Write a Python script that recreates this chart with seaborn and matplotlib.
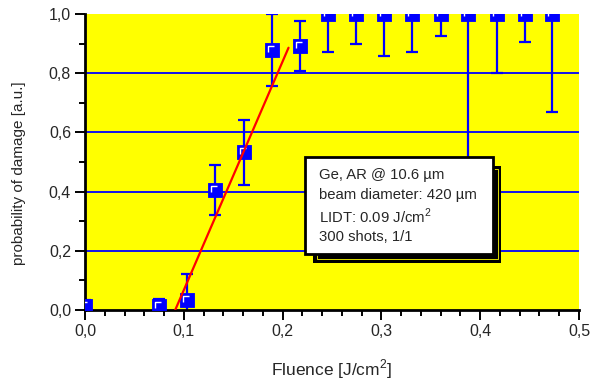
import numpy as np
import pandas as pd
import seaborn as sns
import matplotlib.pyplot as plt
from matplotlib.patches import Rectangle
from matplotlib.ticker import MultipleLocator, FuncFormatter

# Measured damage probability vs. fluence
fluence = [0.0, 0.075, 0.1035, 0.132, 0.161, 0.189, 0.218,
           0.246, 0.2745, 0.303, 0.331, 0.360, 0.388, 0.4165, 0.445, 0.473]
probability = [0.012, 0.014, 0.034, 0.405, 0.533, 0.878, 0.893,
               1.0, 1.0, 1.0, 1.0, 1.0, 1.0, 1.0, 1.0, 1.0]
error = [0.022, 0.023, 0.086, 0.085, 0.11, 0.122, 0.085,
         0.127, 0.10, 0.141, 0.127, 0.073, 0.50, 0.20, 0.094, 0.33]

# Linear fit through the rising edge, starting at the threshold
fit_fluence = [0.0913, 0.206]
fit_probability = [0.0, 0.886]

info_lines = ["Ge, AR @ 10.6 µm", "beam diameter: 420 µm",
              "LIDT: 0.09 J/cm$^{2}$", "300 shots, 1/1"]

sns.set_theme(style="ticks")
plt.rcParams["font.family"] = ["Liberation Sans", "DejaVu Sans"]
plt.rcParams["mathtext.fontset"] = "custom"
plt.rcParams["mathtext.rm"] = "Liberation Sans"

BLUE = "#0000ff"
RED = "#ff0000"

fig = plt.figure(figsize=(5.9, 3.81), dpi=100)
ax = fig.add_axes([85 / 590, 1 - 310 / 381, 494 / 590, 296 / 381])
ax.set_facecolor("#ffff00")

df = pd.DataFrame({"fluence": fluence, "probability": probability, "error": error})

# horizontal grid lines
for yv in [0.2, 0.4, 0.6, 0.8]:
    ax.axhline(yv, color=BLUE, lw=1.3, zorder=1)

ax.errorbar(df["fluence"], df["probability"], yerr=df["error"], fmt="none",
            ecolor=BLUE, elinewidth=1.6, capsize=4, capthick=1.6, zorder=2)

ms = 10.2
sns.scatterplot(data=df, x="fluence", y="probability", marker="s", s=ms ** 2,
                color=BLUE, edgecolor=BLUE, linewidth=0.6, ax=ax, zorder=3,
                legend=False)
# bevel highlight inside each square
bevel = [(-0.27, -0.12), (-0.27, 0.27), (0.17, 0.27)]
ax.plot(df["fluence"], df["probability"], linestyle="none", marker=bevel,
        markersize=ms * 0.54, markerfacecolor="none", markeredgecolor="white",
        markeredgewidth=1.0, zorder=4)

fit_df = pd.DataFrame({"fluence": fit_fluence, "probability": fit_probability})
sns.lineplot(data=fit_df, x="fluence", y="probability", color=RED, lw=1.6,
             ax=ax, zorder=5)

ax.set_xlim(0, 0.5)
ax.set_ylim(0, 1.0)
ax.xaxis.set_major_locator(MultipleLocator(0.1))
ax.xaxis.set_minor_locator(MultipleLocator(0.02))
ax.yaxis.set_major_locator(MultipleLocator(0.2))
ax.yaxis.set_minor_locator(MultipleLocator(0.1))
comma = FuncFormatter(lambda v, p: f"{v:.1f}".replace(".", ","))
ax.xaxis.set_major_formatter(comma)
ax.yaxis.set_major_formatter(comma)
ax.tick_params(which="major", direction="out", length=7, width=1.4,
               labelsize=11.5, pad=3, color="black")
ax.tick_params(which="minor", direction="out", length=4, width=1.4, color="black")

for side in ["top", "right"]:
    ax.spines[side].set_visible(False)
for side in ["left", "bottom"]:
    ax.spines[side].set_linewidth(2)
    ax.spines[side].set_color("black")

ax.set_xlabel("Fluence [J/cm$^{2}$]", fontsize=12.5)
ax.set_ylabel("probability of damage [a.u.]", fontsize=11)
ax.xaxis.set_label_coords(0.5, -0.16)
ax.yaxis.set_label_coords(-59 / 494, 0.463)

# annotation box with drop shadow
bx0, bx1, by0, by1 = 0.2227, 0.4130, 0.189, 0.517
dx, dy = 0.0085, 0.029
ax.add_patch(Rectangle((bx0 + dx, by0 - dy), bx1 - bx0, by1 - by0,
                       facecolor="black", edgecolor="black", lw=0, zorder=8))
ax.add_patch(Rectangle((bx0 + dx + 0.0035, by0 - dy + 0.012),
                       bx1 - bx0 - 0.007, by1 - by0 - 0.024,
                       facecolor="none", edgecolor="#ffff00", lw=0.6, zorder=8.5))
ax.add_patch(Rectangle((bx0, by0), bx1 - bx0, by1 - by0,
                       facecolor="white", edgecolor="black", lw=2, zorder=9))
line_y = [0.456, 0.389, 0.316, 0.247]
for txt, yv in zip(info_lines, line_y):
    ax.text(0.2368, yv, txt, fontsize=10.7, va="center", ha="left", zorder=10)

fig.savefig("out.png", dpi=100)
